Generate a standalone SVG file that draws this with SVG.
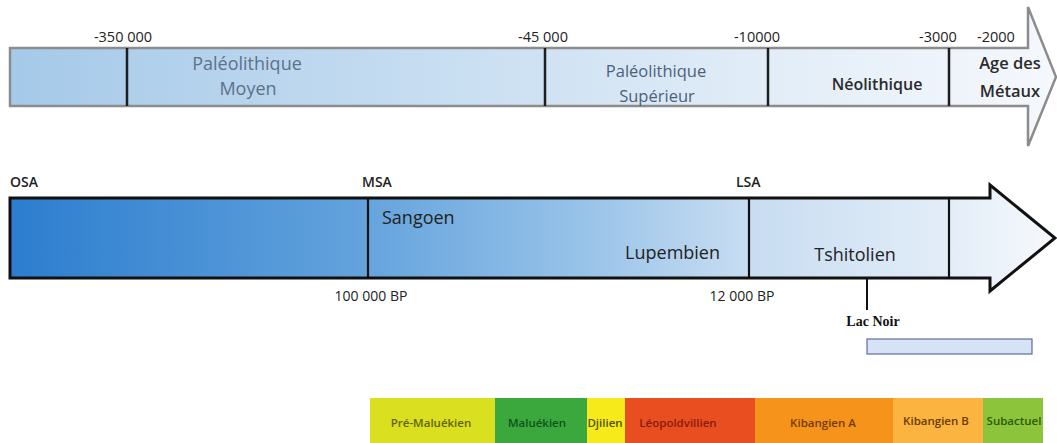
<svg xmlns="http://www.w3.org/2000/svg" width="1057" height="443" viewBox="0 0 1057 443">
<defs>
<linearGradient id="gTop" x1="10" y1="0" x2="1056" y2="0" gradientUnits="userSpaceOnUse">
<stop offset="0" stop-color="#a5c9e9"/>
<stop offset="0.5" stop-color="#cfe2f3"/>
<stop offset="0.75" stop-color="#e4eef8"/>
<stop offset="1" stop-color="#f5f8fc"/>
</linearGradient>
<linearGradient id="gBot" x1="10" y1="0" x2="1055" y2="0" gradientUnits="userSpaceOnUse">
<stop offset="0" stop-color="#2c7dcf"/>
<stop offset="0.33" stop-color="#62a2dc"/>
<stop offset="0.55" stop-color="#98c3e9"/>
<stop offset="0.7" stop-color="#c6dcf1"/>
<stop offset="0.9" stop-color="#e3edf8"/>
<stop offset="1" stop-color="#f6f9fc"/>
</linearGradient>
<style>
.t{font-family:"Open Sans","Liberation Sans",sans-serif;}
.num{font-size:14.5px;fill:#222;text-anchor:middle;}
.per{font-size:18px;text-anchor:middle;}
.div1{stroke:#1e1e1e;stroke-width:2.5;}
.div2{stroke:#111;stroke-width:2.2;}
.bar{font-size:11.5px;font-weight:600;text-anchor:middle;}
.dk{fill:#222;}
</style>
</defs>

<g id="top-arrow">
<path d="M10,48 H1028 V7 L1056,77 L1028,146 V106 H10 Z" fill="url(#gTop)" stroke="#8c8c8c" stroke-width="2.5"/>
<line class="div1" x1="127" y1="48" x2="127" y2="106"/>
<line class="div1" x1="545" y1="48" x2="545" y2="106"/>
<line class="div1" x1="768" y1="48" x2="768" y2="106"/>
<line class="div1" x1="949" y1="48" x2="949" y2="106"/>
</g>

<g id="top-labels" class="t">
<text class="num" x="123" y="42">-350 000</text>
<text class="num" x="543" y="42">-45 000</text>
<text class="num" x="757" y="42">-10000</text>
<text class="num" x="938" y="42">-3000</text>
<text class="num" x="996" y="42">-2000</text>
</g>

<g id="pal-moyen" class="t">
<text class="per" x="247" y="70" fill="#5d7189">Paléolithique</text>
<text class="per" x="248" y="95" fill="#5d7189">Moyen</text>
</g>
<g id="pal-sup" class="t">
<text x="656" y="77" font-size="16.5" text-anchor="middle" fill="#4e6079">Paléolithique</text>
<text x="657" y="102" font-size="16.5" text-anchor="middle" fill="#4e6079">Supérieur</text>
</g>
<g id="neolithique" class="t">
<text x="877" y="90" font-size="16" font-weight="600" text-anchor="middle" fill="#2b2b2b">Néolithique</text>
</g>
<g id="metaux" class="t">
<text x="1010" y="69" font-size="16.5" font-weight="600" text-anchor="middle" fill="#2b2b2b">Age des</text>
<text x="1010" y="97" font-size="16.5" font-weight="600" text-anchor="middle" fill="#2b2b2b">Métaux</text>
</g>

<g id="bottom-arrow">
<path d="M10,198 H990 V185 L1055,238 L990,291 V278 H10 Z" fill="url(#gBot)" stroke="#111" stroke-width="3"/>
<line class="div2" x1="368" y1="198" x2="368" y2="278"/>
<line class="div2" x1="749" y1="198" x2="749" y2="278"/>
<line class="div2" x1="949" y1="198" x2="949" y2="278"/>
</g>

<g id="bottom-labels" class="t">
<text class="dk" x="10" y="187" font-size="14" font-weight="600">OSA</text>
<text class="dk" x="362" y="187" font-size="14" font-weight="600">MSA</text>
<text class="dk" x="736" y="187" font-size="14" font-weight="600">LSA</text>
<text class="dk" x="371" y="301" font-size="14" text-anchor="middle">100 000 BP</text>
<text class="dk" x="742" y="301" font-size="14" text-anchor="middle">12 000 BP</text>
</g>
<g id="sangoen" class="t"><text x="382" y="224" font-size="18" fill="#222">Sangoen</text></g>
<g id="lupembien" class="t"><text x="720" y="259" font-size="18" text-anchor="end" fill="#222">Lupembien</text></g>
<g id="tshitolien" class="t"><text x="855" y="261" font-size="18" text-anchor="middle" fill="#222">Tshitolien</text></g>

<g id="connectors">
<line x1="867" y1="278" x2="867" y2="310" stroke="#111" stroke-width="2"/>
</g>
<g id="lac-noir">
<text x="873" y="326" font-family="Liberation Serif,serif" font-size="14" font-weight="bold" text-anchor="middle" fill="#111">Lac Noir</text>
<rect x="867" y="339" width="165" height="15" fill="#d6e2f6" stroke="#5d6f99" stroke-width="1.2"/>
</g>

<g id="color-bar" class="t">
<rect x="370" y="398" width="125" height="45" fill="#dadf1f"/>
<rect x="495" y="398" width="92" height="45" fill="#3aa83c"/>
<rect x="587" y="398" width="38" height="45" fill="#f6ea1a"/>
<rect x="625" y="398" width="130" height="45" fill="#e84e1f"/>
<rect x="755" y="398" width="138" height="45" fill="#f6931b"/>
<rect x="893" y="398" width="90" height="45" fill="#fbb43f"/>
<rect x="983" y="398" width="60" height="45" fill="#8cc43c"/>
<text class="bar" x="431" y="427" fill="#5f6400">Pré-Maluékien</text>
<text class="bar" x="537" y="427" fill="#12501c">Maluékien</text>
<text class="bar" x="605" y="427" fill="#4f5200">Djilien</text>
<text class="bar" x="678" y="427" fill="#8a1a12">Léopoldvillien</text>
<text class="bar" x="823" y="427" fill="#733a00">Kibangien A</text>
<text class="bar" x="936" y="425" fill="#6a3a00">Kibangien B</text>
<text class="bar" x="1014" y="425" fill="#2d5a06">Subactuel</text>
</g>
</svg>
